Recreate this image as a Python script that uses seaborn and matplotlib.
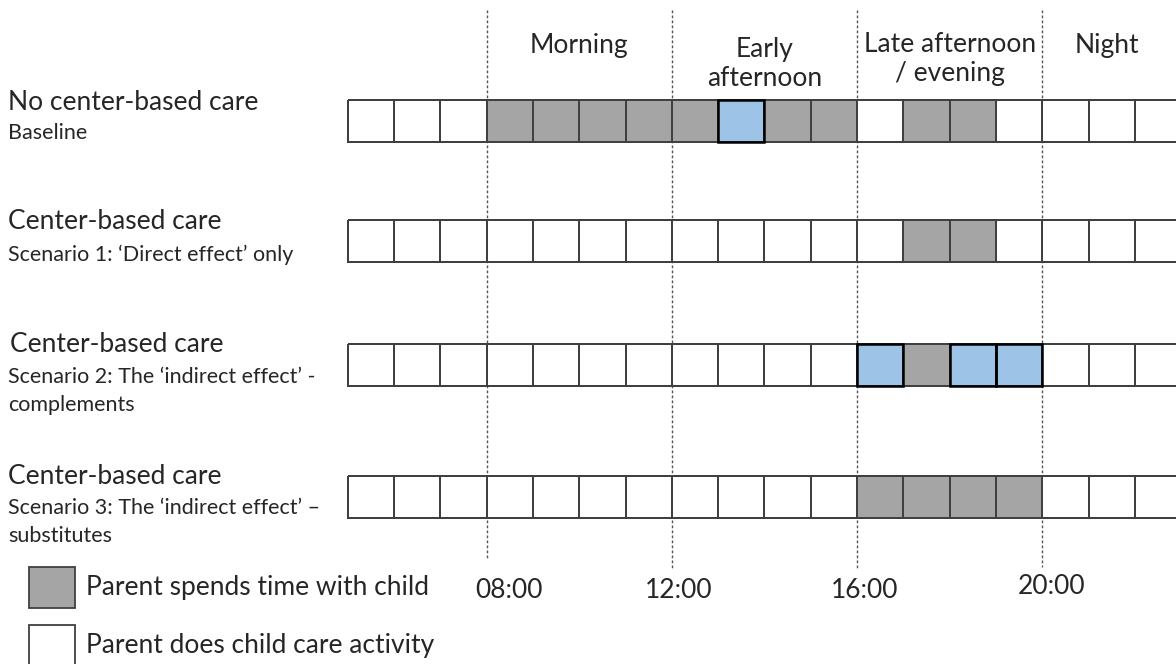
import numpy as np
import matplotlib.pyplot as plt
from matplotlib.colors import ListedColormap
from matplotlib.patches import Rectangle
import seaborn as sns

sns.set_theme(style="white")
plt.rcParams['font.family'] = ['Lato', 'DejaVu Sans']

# one cell = one hour, 05:00 to 23:00
start_hour = 5
n_hours = 18

row_titles = ["No center-based care", "Center-based care",
              "Center-based care", "Center-based care"]
row_subtitles = ["Baseline",
                 "Scenario 1: \u2018Direct effect\u2019 only",
                 "Scenario 2: The \u2018indirect effect\u2019 -\ncomplements",
                 "Scenario 3: The \u2018indirect effect\u2019 \u2013\nsubstitutes"]

# 0 = child care activity (white), 1 = time with child (grey), 2 = blue
row_codes = [
    [0, 0, 0, 1, 1, 1, 1, 1, 2, 1, 1, 0, 1, 1, 0, 0, 0, 0],
    [0, 0, 0, 0, 0, 0, 0, 0, 0, 0, 0, 0, 1, 1, 0, 0, 0, 0],
    [0, 0, 0, 0, 0, 0, 0, 0, 0, 0, 0, 2, 1, 2, 2, 0, 0, 0],
    [0, 0, 0, 0, 0, 0, 0, 0, 0, 0, 0, 1, 1, 1, 1, 0, 0, 0],
]

period_labels = ["Morning", "Early\nafternoon", "Late afternoon\n/ evening", "Night"]
period_centers = [10, 14, 18, 21.4]

marker_hours = [8, 12, 16, 20]
marker_labels = ["08:00", "12:00", "16:00", "20:00"]

legend_labels = ["Parent spends time with child", "Parent does child care activity"]

# layout (pixels)
W, H = 1176, 664
grid_left, cell_w, cell_h = 347.7, 46.3, 42
row_tops = [100, 220, 344, 476]
grey, blue = "#A5A5A5", "#9DC3E6"
big, small = 19, 15.5

fig = plt.figure(figsize=(W / 100, H / 100), dpi=100)

# background axes: x in hours, y in pixels from the top
ax = fig.add_axes([0, 0, 1, 1])
ax.set_xlim(start_hour - grid_left / cell_w, start_hour + (W - grid_left) / cell_w)
ax.set_ylim(H, 0)
ax.axis("off")

ax.vlines(marker_hours, 10, [560, 569, 568, 567], colors="#555555",
          linewidth=1, linestyles=(0, (2, 1.6)))
label_dx = [22, 7, 8, 9]
label_y = [591, 591, 591, 586]
for h, lab, dx, y in zip(marker_hours, marker_labels, label_dx, label_y):
    ax.text(h + dx / cell_w, y, lab, ha="center", va="center", fontsize=big)

period_y = [46, 64, 59, 45]
for c, lab, y in zip(period_centers, period_labels, period_y):
    ax.text(c, y, lab, ha="center", va="center", fontsize=big, linespacing=1.25)

# one heatmap strip per row
cmap = ListedColormap(["white", grey, blue])
for i, codes in enumerate(row_codes):
    rax = fig.add_axes([grid_left / W, 1 - (row_tops[i] + cell_h) / H,
                        n_hours * cell_w / W, cell_h / H])
    sns.heatmap(np.array([codes]), ax=rax, cmap=cmap, vmin=0, vmax=2, cbar=False,
                linewidths=1.3, linecolor="#404040",
                xticklabels=False, yticklabels=False)
    rax.collections[0].set_clip_on(False)
    for k, c in enumerate(codes):
        if c == 2:
            rax.add_patch(Rectangle((k, 0), 1, 1, fill=False, edgecolor="black",
                                    lw=1.8, clip_on=False))

# row labels
title_y = [103, 222, 345, 477]
sub_y = [133, 255, 391, 522]
title_x = [8, 8, 10, 8]
for t, s, tx, ty, sy in zip(row_titles, row_subtitles, title_x, title_y, sub_y):
    fig.text(tx / W, 1 - ty / H, t, ha="left", va="center", fontsize=big)
    fig.text(8 / W, 1 - sy / H, s, ha="left", va="center", fontsize=small,
             linespacing=1.5)

# legend
leg_y = [567, 625]
for lab, y, col in zip(legend_labels, leg_y, [grey, "white"]):
    fig.add_artist(Rectangle((29 / W, 1 - (y + 41) / H), 46 / W, 41 / H,
                             transform=fig.transFigure, facecolor=col,
                             edgecolor="#404040", lw=1.3))
    fig.text(86 / W, 1 - (y + 20) / H, lab, ha="left", va="center", fontsize=big)

fig.savefig("out.png", dpi=100)
